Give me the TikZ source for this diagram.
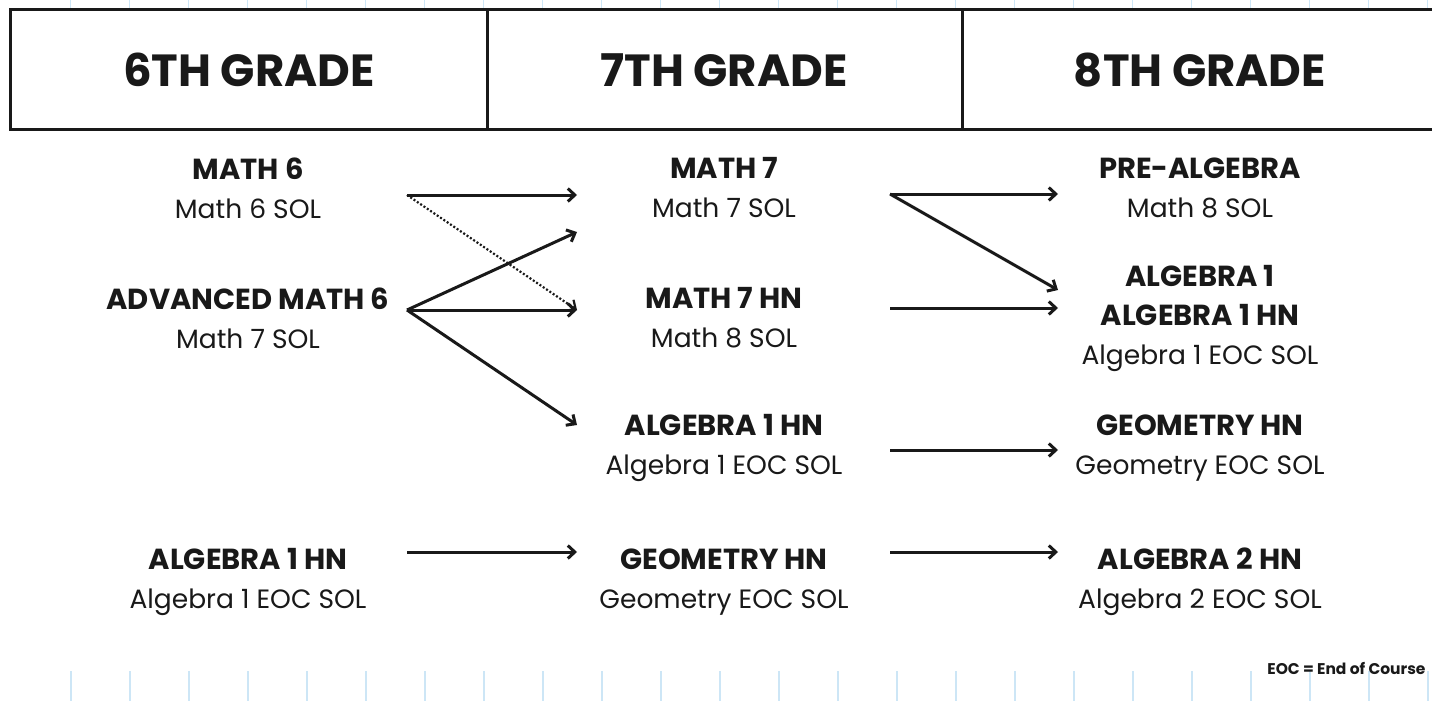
\documentclass[tikz,border=0pt]{standalone}
\usepackage{fontspec}
\setmainfont{Poppins}
\usetikzlibrary{arrows.meta}
\definecolor{gridblue}{RGB}{205,230,246}
\definecolor{ink}{RGB}{25,25,25}
\newcommand{\ttl}[1]{{\fontsize{29}{39}\selectfont\bfseries #1}}
\tikzset{
  hdr/.style={font=\fontsize{45}{50}\selectfont\bfseries,text=ink},
  course/.style={align=center,inner sep=0pt,text=ink,
                 font=\fontsize{26.5}{39}\selectfont},
  note/.style={font=\fontsize{15.5}{17}\selectfont\bfseries,text=ink},
  fl/.style={draw=ink,line width=3pt,-{Straight Barb[length=7pt,width=13pt]}},
  fld/.style={fl,line width=2.2pt,dash pattern=on 2pt off 2pt},
}
\begin{document}
\begin{tikzpicture}[x=1pt, y=-1pt]
  \useasboundingbox[fill=white] (0,0) rectangle (1432,701);
  % faint grid paper
  \foreach \x in {71,130,...,1430}
    \draw[gridblue, line width=1.5pt] (\x,671) -- (\x,701);
  \foreach \x in {70,129,...,1430}
    \draw[gridblue, line width=1pt] (\x,0) -- (\x,9);
  % header row
  \draw[ink, line width=3pt] (10,10) rectangle (1450,129);
  \draw[ink, line width=3pt] (487,10) -- (487,129);
  \draw[ink, line width=3pt] (962,10) -- (962,129);
  \node[hdr] (g6) at (249,70) {6TH GRADE};
  \node[hdr] (g7) at (724,70) {7TH GRADE};
  \node[hdr] (g8) at (1200,70) {8TH GRADE};
  % 6th grade
  \node[course] (sixm) at (248,188) {\ttl{MATH 6}\\Math 6 SOL};
  \node[course] (sixa) at (248,318) {\ttl{ADVANCED MATH 6}\\Math 7 SOL};
  \node[course] (sixh) at (248,582) {\ttl{ALGEBRA 1 HN}\\Algebra 1 EOC SOL};
  % 7th grade
  \node[course] (sevm) at (724,188) {\ttl{MATH 7}\\Math 7 SOL};
  \node[course] (sevh) at (724,318) {\ttl{MATH 7 HN}\\Math 8 SOL};
  \node[course] (seva) at (724,448) {\ttl{ALGEBRA 1 HN}\\Algebra 1 EOC SOL};
  \node[course] (sevg) at (724,582) {\ttl{GEOMETRY HN}\\Geometry EOC SOL};
  % 8th grade
  \node[course] (eigp) at (1200,188) {\ttl{PRE-ALGEBRA}\\Math 8 SOL};
  \node[course] (eiga) at (1200,318) {\ttl{ALGEBRA 1}\\\ttl{ALGEBRA 1 HN}\\Algebra 1 EOC SOL};
  \node[course] (eigg) at (1200,448) {\ttl{GEOMETRY HN}\\Geometry EOC SOL};
  \node[course] (eigh) at (1200,582) {\ttl{ALGEBRA 2 HN}\\Algebra 2 EOC SOL};
  \node[note, anchor=east] (eoc) at (1429,668) {EOC = End of Course};
  % arrow ends
  \coordinate (sixm-o) at (407,195);
  \coordinate (sixa-o) at (407,310);
  \coordinate (sixh-o) at (407,552);
  \coordinate (sevm-i) at (577,195);
  \coordinate (sevm-j) at (577,232);
  \coordinate (sevh-i) at (577,310);
  \coordinate (seva-i) at (577,425);
  \coordinate (sevg-i) at (577,552);
  \coordinate (sevm-o) at (890,194);
  \coordinate (sevh-o) at (890,308);
  \coordinate (seva-o) at (890,450);
  \coordinate (sevg-o) at (890,552);
  \coordinate (eigp-i) at (1058,194);
  \coordinate (eiga-j) at (1058,290);
  \coordinate (eiga-i) at (1058,308);
  \coordinate (eigg-i) at (1058,450);
  \coordinate (eigh-i) at (1058,552);
  % 6th -> 7th
  \draw[fl] (sixm-o) -- (sevm-i);
  \draw[fld] (sixm-o) -- (sevh-i);
  \draw[fl] (sixa-o) -- (sevm-j);
  \draw[fl] (sixa-o) -- (sevh-i);
  \draw[fl] (sixa-o) -- (seva-i);
  \draw[fl] (sixh-o) -- (sevg-i);
  % 7th -> 8th
  \draw[fl] (sevm-o) -- (eigp-i);
  \draw[fl] (sevm-o) -- (eiga-j);
  \draw[fl] (sevh-o) -- (eiga-i);
  \draw[fl] (seva-o) -- (eigg-i);
  \draw[fl] (sevg-o) -- (eigh-i);
\end{tikzpicture}
\end{document}
